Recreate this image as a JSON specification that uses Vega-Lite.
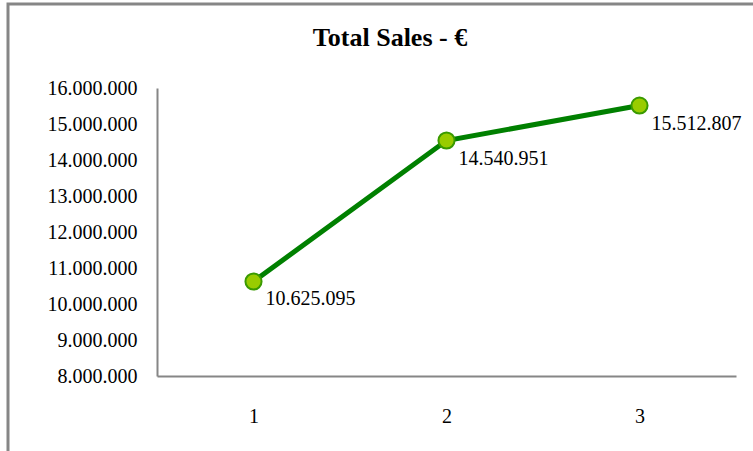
{
  "$schema": "https://vega.github.io/schema/vega-lite/v6.json",
  "autosize": "none",
  "padding": {"left": 8, "top": 4, "right": 0, "bottom": 0},
  "width": 764,
  "height": 460,
  "background": "white",
  "config": {
    "locale": {"number": {"decimal": ",", "thousands": ".", "grouping": [3], "currency": ["", " €"]}},
    "view": {"stroke": "#868686", "strokeWidth": 3},
    "font": "Times New Roman, Liberation Serif, serif"
  },
  "title": {
    "text": "Total Sales - €",
    "font": "Times New Roman, Liberation Serif, serif",
    "fontSize": 26,
    "fontWeight": "bold",
    "color": "#000000",
    "anchor": "middle",
    "frame": "group",
    "baseline": "middle",
    "offset": -38,
    "dy": 22
  },
  "data": {
    "values": [
      {"period": "1", "sales": 10625095},
      {"period": "2", "sales": 14540951},
      {"period": "3", "sales": 15512807}
    ]
  },
  "encoding": {
    "x": {
      "field": "period",
      "type": "ordinal",
      "scale": {"type": "point", "padding": 0.5, "range": [149, 728]},
      "axis": {
        "title": null,
        "labelAngle": 0,
        "offset": -88,
        "ticks": false,
        "domainColor": "#868686",
        "domainWidth": 2,
        "labelFont": "Times New Roman, Liberation Serif, serif",
        "labelFontSize": 20,
        "labelColor": "#000000",
        "labelPadding": 30,
        "grid": false
      }
    },
    "y": {
      "field": "sales",
      "type": "quantitative",
      "scale": {"domain": [8000000, 16000000], "range": [372, 84], "nice": false, "zero": false},
      "axis": {
        "title": null,
        "values": [8000000, 9000000, 10000000, 11000000, 12000000, 13000000, 14000000, 15000000, 16000000],
        "format": ",d",
        "offset": -149,
        "ticks": false,
        "domainColor": "#868686",
        "domainWidth": 2,
        "labelFont": "Times New Roman, Liberation Serif, serif",
        "labelFontSize": 20,
        "labelColor": "#000000",
        "labelPadding": 20,
        "grid": false
      }
    }
  },
  "layer": [
    {"mark": {"type": "line", "color": "#008000", "strokeWidth": 5}},
    {"mark": {"type": "point", "filled": true, "fill": "#99CC00", "stroke": "#3A9A00", "strokeWidth": 2, "size": 260, "opacity": 1}},
    {
      "mark": {"type": "text", "align": "left", "baseline": "middle", "dx": 12, "dy": 18, "font": "Times New Roman, Liberation Serif, serif", "fontSize": 20, "color": "#000000"},
      "encoding": {"text": {"field": "sales", "type": "quantitative", "format": ",d"}}
    }
  ]
}
